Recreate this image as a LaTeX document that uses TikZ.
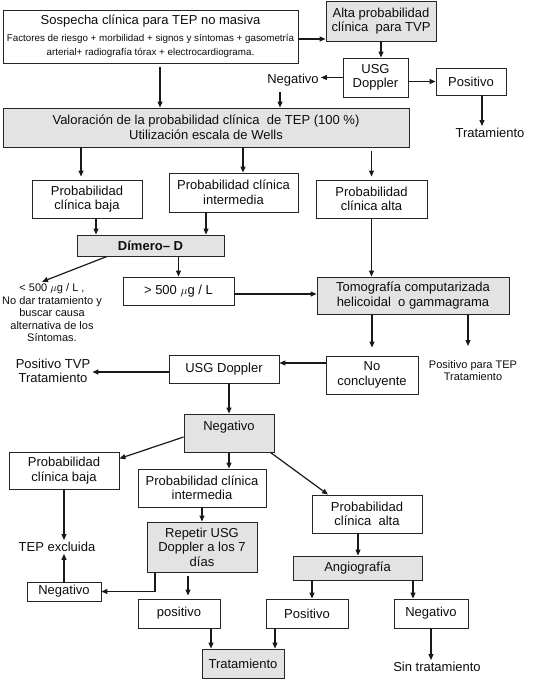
\documentclass[tikz,border=0pt]{standalone}
\usepackage{fontspec}
\setmainfont{Liberation Sans}
\usetikzlibrary{arrows.meta,positioning}

\begin{document}
\begin{tikzpicture}[
  x=1pt, y=-1pt,
  every node/.style={align=center, inner sep=2pt, font=\fontsize{13}{14.5}\selectfont, text=black!95},
  box/.style={rectangle, draw=black!85, line width=0.9pt, fill=white},
  gbox/.style={box, fill=black!11},
  small/.style={font=\fontsize{11}{12.5}\selectfont},
  arr/.style={draw=black!90, line width=1.2pt, -{Triangle[length=6pt,width=5pt]}},
  gap/.style={shorten <=4pt},
  tipgap/.style={shorten >=3pt}
]
  \useasboundingbox (0,0) rectangle (542,688);

  % first block
  \node[box, minimum width=295pt, minimum height=53pt] (sosp) at (150.5,36.5)
    {Sospecha clínica para TEP no masiva\\[2pt]
     \fontsize{9.8}{11.5}\selectfont Factores de riesgo + morbilidad + signos y síntomas + gasometría\\
     \fontsize{9.8}{11.5}\selectfont arterial+ radiografía tórax + electrocardiograma.};
  \node[gbox, minimum width=110pt, minimum height=40pt] (alta) at (381,21) {Alta probabilidad\\clínica\ \ para TVP};
  \node[box, minimum width=65pt, minimum height=39pt] (usg1) at (375.5,77.5) {USG\\Doppler};
  \node (neg1) at (293,80) {Negativo};
  \node[box, minimum width=70pt, minimum height=27pt] (pos1) at (471,81.5) {Positivo};
  \node (trat1) at (490,133) {Tratamiento};
  \node[gbox, minimum width=406pt, minimum height=39pt] (val) at (206,127.5)
    {Valoración de la probabilidad clínica\ \ de TEP (100 \%)\\Utilización escala de Wells};

  % Wells
  \node[box, minimum width=110pt, minimum height=38pt] (baja1) at (87,199) {Probabilidad\\clínica baja};
  \node[box, minimum width=129pt, minimum height=39pt] (inter1) at (233.5,192.5) {Probabilidad clínica\\intermedia};
  \node[box, minimum width=111pt, minimum height=38pt] (altap1) at (371.5,199) {Probabilidad\\clínica alta};
  \node[gbox, minimum width=147pt, minimum height=21pt, font=\fontsize{13}{14.5}\selectfont\bfseries] (dimero) at (150.5,245.5) {Dímero– D};
  \node[small] (menos) at (52,313) {< 500 $\mu$g / L ,\\No dar tratamiento y\\buscar causa\\alternativa de los\\Síntomas.};
  \node[box, minimum width=111pt, minimum height=28pt] (mas) at (178.5,291) {> 500 $\mu$g / L};
  \node[gbox, minimum width=192pt, minimum height=37pt] (tomo) at (413,295.5) {Tomografía computarizada\\helicoidal\ \ o gammagrama};

  % second part
  \node[box, minimum width=92pt, minimum height=38pt] (nocon) at (372,375) {No\\concluyente};
  \node[small] (postep) at (473,370.5) {Positivo para TEP\\Tratamiento};
  \node[box, minimum width=110pt, minimum height=28pt] (usg2) at (224,369) {USG Doppler};
  \node (postvp) at (53,371) {Positivo TVP\\Tratamiento};
  \node[gbox, minimum width=90pt, minimum height=38pt] (neg2) at (229,433) {Negativo\\\phantom{N}};
  \node[box, minimum width=110pt, minimum height=37pt] (baja2) at (64,470.5) {Probabilidad\\clínica baja};
  \node[box, minimum width=128pt, minimum height=38pt] (inter2) at (202,488) {Probabilidad clínica\\intermedia};
  \node[box, minimum width=110pt, minimum height=38pt] (alta2) at (367,514) {Probabilidad\\clínica\ \ alta};
  \node (tepex) at (57,547) {TEP excluida};
  \node[gbox, minimum width=110pt, minimum height=50pt] (repetir) at (202,547) {Repetir USG\\Doppler a los 7\\días};
  \node[box, minimum width=74pt, minimum height=19pt] (neg3) at (64,591.5) {Negativo};
  \node[box, minimum width=82pt, minimum height=29pt] (posit) at (179,613.5) {positivo};
  \node[gbox, minimum width=129pt, minimum height=24pt] (angio) at (357.5,568) {Angiografía};
  \node[box, minimum width=82pt, minimum height=29pt] (posit2) at (307,613.5) {Positivo};
  \node[box, minimum width=74pt, minimum height=29pt] (neg4) at (431,613.5) {Negativo};
  \node[gbox, minimum width=82pt, minimum height=29pt] (trat) at (243,663.5) {Tratamiento};
  \node (sintrat) at (437,667) {Sin tratamiento};

  % arrows
  \draw[arr] ([yshift=-2.5pt]sosp.east) -- ([yshift=-2.5pt]sosp.east -| alta.west);
  \draw[arr] (alta.south) -- (alta.south |- usg1.north);
  \draw[arr] (usg1.west) -- (usg1.west -| neg1.east);
  \draw[arr, gap] ([xshift=-13pt]neg1.south) -- ([xshift=-13pt]neg1.south |- val.north);
  \draw[arr] (pos1.west -| usg1.east) -- (pos1.west);
  \draw[arr] ([xshift=11pt]pos1.south) -- ([xshift=11pt]pos1.south |- trat1.north);
  \draw[arr, gap] ([xshift=9.5pt]sosp.south) -- ([xshift=9.5pt]sosp.south |- val.north);
  \draw[arr, tipgap] ([xshift=-6pt]baja1.north |- val.south) -- ([xshift=-6pt]baja1.north);
  \draw[arr] ([xshift=9.5pt]inter1.north |- val.south) -- ([xshift=9.5pt]inter1.north);
  \draw[arr, gap, tipgap] (altap1.north |- val.south) -- (altap1.north);
  \draw[arr] ([xshift=9pt]baja1.south) -- ([xshift=9pt]baja1.south |- dimero.north);
  \draw[arr] ([xshift=-27.5pt]inter1.south) -- ([xshift=-27.5pt]inter1.south |- dimero.north);
  \draw[arr] ([xshift=-43.5pt]dimero.south) -- ([xshift=-10pt]menos.north);
  \draw[arr] (mas.north |- dimero.south) -- (mas.north);
  \draw[arr] ([yshift=-3pt]mas.east) -- ([yshift=-3pt]mas.east -| tomo.west);
  \draw[arr] (altap1.south) -- (altap1.south |- tomo.north);
  \draw[arr] (nocon.north |- tomo.south) -- ([yshift=8pt]nocon.north);
  \draw[arr] ([xshift=-5pt]postep.north |- tomo.south) -- ([xshift=-5pt,yshift=12pt]postep.north);
  \draw[arr] ([yshift=6pt]usg2.east -| nocon.west) -- ([yshift=6pt]usg2.east);
  \draw[arr] ([yshift=-3pt]usg2.west) -- ([yshift=-3pt]usg2.west -| postvp.east);
  \draw[arr] ([xshift=5pt]usg2.south) -- ([xshift=5pt]usg2.south |- neg2.north);
  \draw[arr] ([yshift=-4pt]neg2.west) -- ([yshift=-7pt]baja2.north east);
  \draw[arr] (neg2.south) -- (neg2.south |- inter2.north);
  \draw[arr] ([xshift=-4pt]neg2.south east) -- ([xshift=-39pt]alta2.north);
  \draw[arr] (baja2.south) -- (baja2.south |- tepex.north);
  \draw[arr] (inter2.south) -- (repetir.north);
  \draw[arr] (neg3.north) -- (neg3.north |- tepex.south);
  \draw[arr] ([xshift=-47pt]repetir.south) |- (neg3.east);
  \draw[arr, gap, tipgap] ([xshift=9pt]posit.north |- repetir.south) -- ([xshift=9pt]posit.north);
  \draw[arr] ([xshift=32pt]posit.south) -- ([xshift=32pt]posit.south |- trat.north);
  \draw[arr] ([xshift=-9pt]alta2.south) -- ([xshift=-9pt]alta2.south |- angio.north);
  \draw[arr] ([xshift=5pt]posit2.north |- angio.south) -- ([xshift=5pt]posit2.north);
  \draw[arr] ([xshift=-18pt]neg4.north |- angio.south) -- ([xshift=-18pt]neg4.north);
  \draw[arr] ([xshift=-32pt]posit2.south) -- ([xshift=-32pt]posit2.south |- trat.north);
  \draw[arr] (neg4.south) -- (neg4.south |- sintrat.north);
\end{tikzpicture}
\end{document}
